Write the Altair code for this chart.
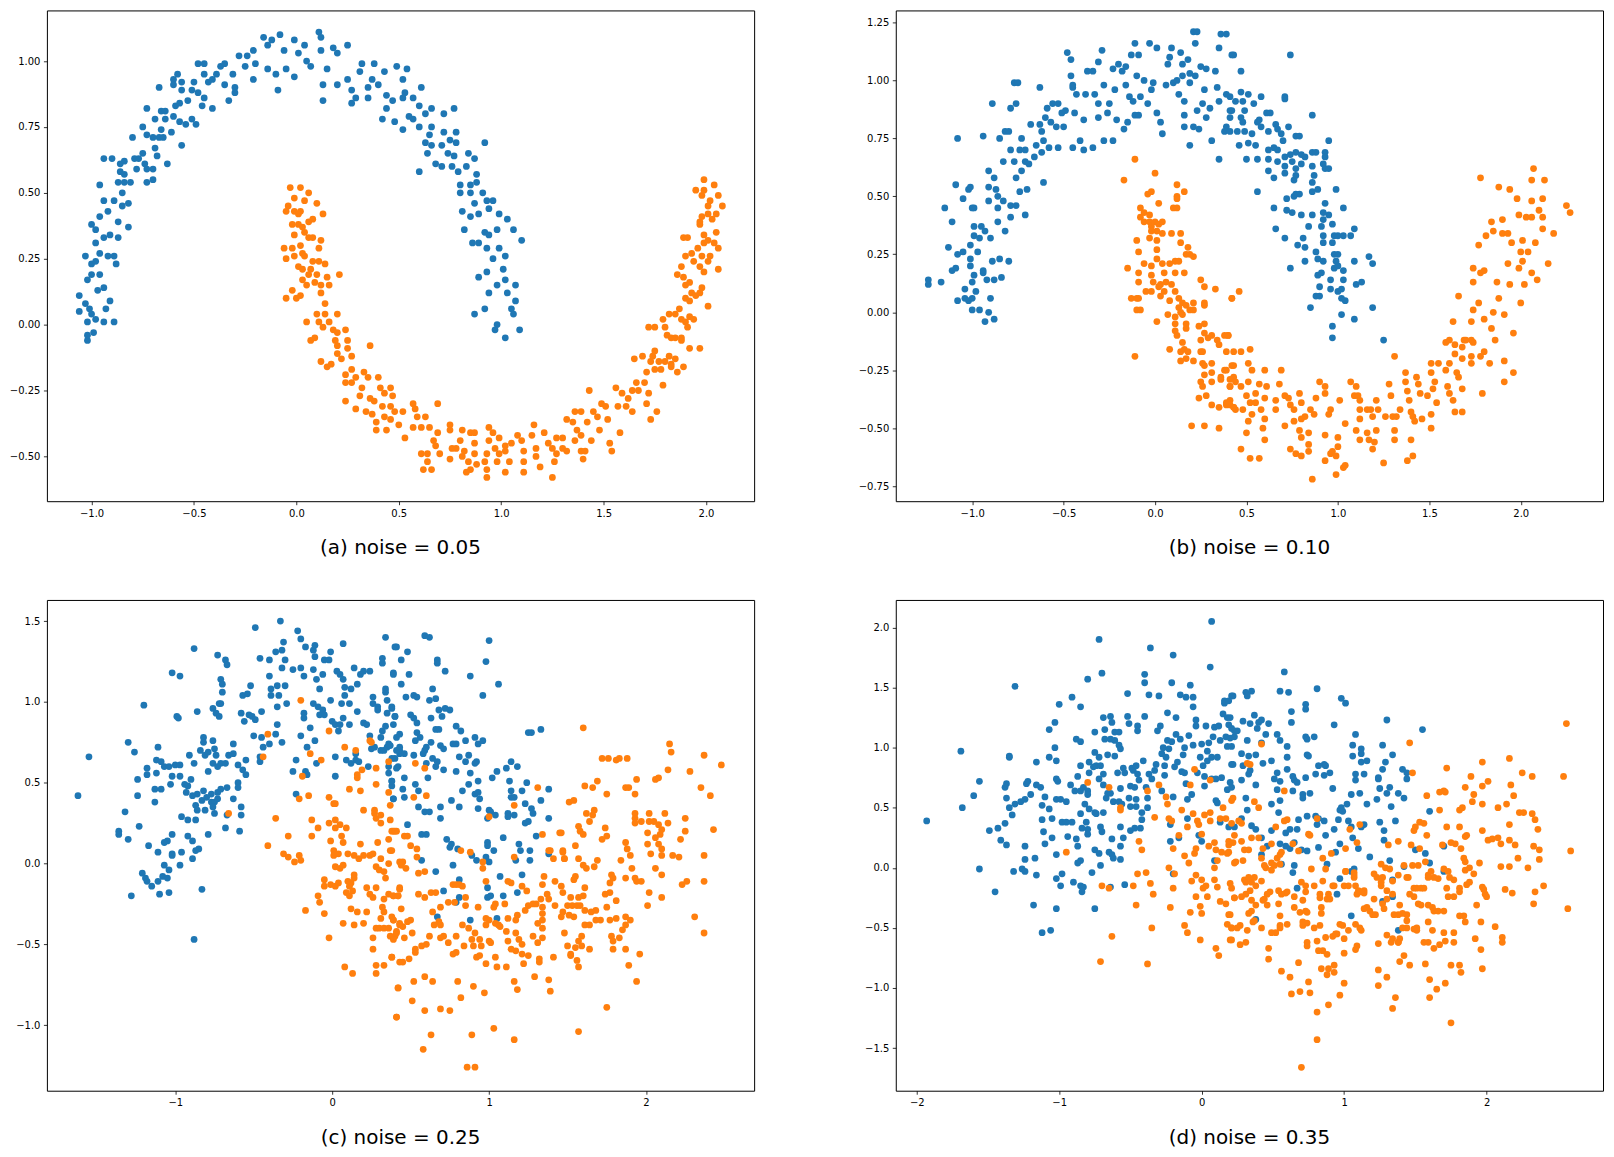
import altair as alt
import pandas as pd

# ---------------- panel (a): noise = 0.05 ----------------
A0 = [(-1.02,-0.06),(-0.99,-0.03),(-1.02,-0.04),(-1.06,0.05),(-1.06,0.11),(-1.02,0.01),(-0.98,0.02),(-0.94,0.01),(-0.89,0.01),(-0.93,0.06),(-0.91,0.09),(-1.03,0.08),(-1.01,0.06),(-1.0,0.04),(-0.97,0.13),(-0.94,0.14),(-1.03,0.26),(-1.0,0.23),(-0.98,0.24),(-0.96,0.27),(-0.92,0.26),(-0.89,0.26),(-0.88,0.23),(-1.0,0.19),(-0.96,0.19),(-1.02,0.17),(-1.0,0.38),(-0.98,0.36),(-0.94,0.33),(-0.91,0.34),(-0.87,0.39),(-0.87,0.33),(-0.98,0.31),(-0.96,0.41),(-0.92,0.43),(-0.94,0.47),(-0.96,0.53),(-0.89,0.47),(-0.85,0.45),(-0.82,0.46),(-0.85,0.50),(-0.82,0.37),(-0.87,0.54),(-0.84,0.54),(-0.81,0.54),(-0.86,0.58),(-0.84,0.57),(-0.94,0.63),(-0.90,0.63),(-0.86,0.61),(-0.84,0.62),(-0.79,0.63),(-0.77,0.63),(-0.78,0.59),(-0.74,0.61),(-0.73,0.59),(-0.70,0.59),(-0.70,0.55),(-0.73,0.54),(-0.75,0.65),(-0.80,0.71),(-0.75,0.75),(-0.73,0.72),(-0.70,0.71),(-0.67,0.71),(-0.65,0.71),(-0.69,0.67),(-0.68,0.64),(-0.63,0.61),(-0.56,0.68),(-0.61,0.73),(-0.66,0.74),(-0.73,0.82),(-0.69,0.78),(-0.66,0.81),(-0.64,0.81),(-0.64,0.78),(-0.60,0.79),(-0.59,0.83),(-0.57,0.84),(-0.57,0.77),(-0.54,0.76),(-0.67,0.90),(-0.60,0.93),(-0.60,0.91),(-0.58,0.95),(-0.56,0.92),(-0.56,0.89),(-0.53,0.85),(-0.51,0.89),(-0.51,0.78),(-0.49,0.76),(-0.50,0.92),(-0.48,0.88),(-0.48,0.99),(-0.45,0.99),(-0.45,0.95),(-0.45,0.86),(-0.46,0.83),(-0.41,0.82),(-0.43,0.92),(-0.41,0.93),(-0.39,0.95),(-0.37,0.98),(-0.35,0.99),(-0.35,0.91),(-0.33,0.85),(-0.31,0.95),(-0.30,0.90),(-0.30,0.88),(-0.28,1.02),(-0.24,1.02),(-0.25,0.98),(-0.21,0.93),(-0.20,0.99),(-0.21,1.04),(-0.16,1.09),(-0.14,1.06),(-0.14,0.97),(-0.10,0.95),(-0.09,0.89),(-0.12,1.08),(-0.08,1.10),(-0.06,1.04),(-0.05,0.97),(-0.01,1.08),(-0.01,0.94),(0.01,1.03),(0.04,1.06),(0.05,1.0),(0.07,0.98),(0.11,1.11),(0.12,1.09),(0.12,1.04),(0.13,0.91),(0.13,0.85),(0.15,0.97),(0.18,1.05),(0.20,1.03),(0.20,0.91),(0.25,0.93),(0.25,1.06),(0.27,0.89),(0.29,0.86),(0.27,0.84),(0.32,0.99),(0.31,0.96),(0.35,0.86),(0.35,0.90),(0.37,0.93),(0.38,0.99),(0.40,0.91),(0.42,0.78),(0.43,0.96),(0.44,0.82),(0.44,0.87),
(0.49,0.98),(0.54,0.97),(0.52,0.93),(0.53,0.88),(0.47,0.85),(0.52,0.86),(0.57,0.86),(0.60,0.83),(0.61,0.90),(0.55,0.79),(0.57,0.78),(0.48,0.77),(0.52,0.74),(0.63,0.80),(0.66,0.82),(0.72,0.80),(0.77,0.82),(0.60,0.75),(0.66,0.75),(0.65,0.72),(0.72,0.73),(0.78,0.73),(0.63,0.69),(0.66,0.68),(0.71,0.68),(0.75,0.70),(0.78,0.69),(0.64,0.65),(0.68,0.61),(0.71,0.60),(0.60,0.58),(0.74,0.65),(0.77,0.64),(0.84,0.65),(0.87,0.63),(0.92,0.69),(0.76,0.60),(0.79,0.58),(0.83,0.60),(0.80,0.53),(0.85,0.53),(0.88,0.57),(0.88,0.54),(0.80,0.50),(0.85,0.50),(0.91,0.50),(0.87,0.46),(0.93,0.47),(0.96,0.47),(0.81,0.43),(0.85,0.41),(0.89,0.42),(0.94,0.44),(0.99,0.42),(1.03,0.40),(1.06,0.36),(1.10,0.32),(0.82,0.36),(0.86,0.31),(0.89,0.31),(0.92,0.35),(0.94,0.34),(0.98,0.36),(0.93,0.29),(0.99,0.29),(1.02,0.26),(0.96,0.25),(1.01,0.21),(0.89,0.18),(0.93,0.20),(0.98,0.15),(0.94,0.12),(1.02,0.17),(1.07,0.15),(1.03,0.12),(1.07,0.09),(1.05,0.06),(1.06,0.04),(0.87,0.04),(0.92,0.06),(0.98,0.00),(0.97,-0.02),(1.02,-0.05),(1.09,-0.02)]
A1 = [(-0.03,0.52),(0.02,0.52),(0.06,0.50),(-0.01,0.48),(0.04,0.47),(0.10,0.46),(-0.04,0.45),(-0.05,0.43),(-0.01,0.43),(0.02,0.43),(0.01,0.42),(0.13,0.42),(0.08,0.40),(0.06,0.39),(-0.02,0.38),(0.01,0.38),(0.03,0.37),(-0.01,0.34),(0.04,0.35),(0.06,0.33),(0.08,0.33),(0.12,0.32),(-0.06,0.29),(-0.02,0.29),(0.02,0.30),(0.03,0.27),(0.11,0.29),(-0.05,0.25),(-0.01,0.26),(0.04,0.26),(0.08,0.24),(0.11,0.24),(0.14,0.23),(0.01,0.22),(0.03,0.21),(0.07,0.21),(0.10,0.19),(0.06,0.19),(0.15,0.18),(0.21,0.19),(0.03,0.17),(0.09,0.16),(0.12,0.15),(0.16,0.15),(0.05,0.15),(-0.02,0.13),(0.12,0.12),(-0.05,0.10),(0.0,0.10),(0.02,0.11),(0.14,0.08),(0.05,0.01),(0.10,0.04),(0.14,0.04),(0.20,0.04),(0.11,0.01),(0.13,-0.01),(0.16,0.01),(0.07,-0.06),(0.09,-0.05),(0.18,-0.02),(0.20,-0.03),(0.24,-0.02),(0.19,-0.06),(0.20,-0.08),(0.25,-0.06),(0.25,-0.09),(0.20,-0.11),(0.22,-0.13),(0.27,-0.12),(0.36,-0.08),(0.12,-0.14),(0.15,-0.16),(0.17,-0.15),(0.24,-0.19),(0.27,-0.17),(0.29,-0.20),(0.33,-0.18),(0.35,-0.20),(0.24,-0.22),(0.27,-0.22),(0.32,-0.24),(0.31,-0.27),(0.36,-0.28),(0.40,-0.20),(0.41,-0.24),(0.43,-0.26),(0.38,-0.29),(0.42,-0.31),(0.24,-0.29),(0.29,-0.32),(0.34,-0.33),(0.37,-0.34),(0.43,-0.35),(0.39,-0.37),(0.39,-0.40),(0.44,-0.40),
(0.47,-0.27),(0.46,-0.24),(0.46,-0.31),(0.48,-0.33),(0.52,-0.33),(0.46,-0.36),(0.50,-0.38),(0.57,-0.30),(0.58,-0.32),(0.59,-0.35),(0.63,-0.35),(0.53,-0.43),(0.57,-0.39),(0.61,-0.39),(0.65,-0.39),(0.69,-0.30),(0.69,-0.41),(0.67,-0.44),(0.68,-0.46),(0.61,-0.49),(0.64,-0.49),(0.70,-0.49),(0.64,-0.52),(0.62,-0.55),(0.66,-0.55),(0.75,-0.38),(0.75,-0.40),(0.81,-0.40),(0.85,-0.41),(0.87,-0.41),(0.80,-0.44),(0.76,-0.47),(0.78,-0.47),(0.82,-0.48),(0.75,-0.51),(0.81,-0.50),(0.84,-0.52),(0.87,-0.49),(0.87,-0.45),(0.85,-0.55),(0.83,-0.56),(0.88,-0.53),(0.93,-0.49),(0.92,-0.52),(0.93,-0.55),(0.93,-0.58),(0.94,-0.39),(0.96,-0.41),(0.94,-0.44),(0.97,-0.47),(0.99,-0.43),(1.02,-0.46),(0.99,-0.49),(0.98,-0.52),(1.05,-0.45),(1.02,-0.48),(1.04,-0.52),(1.02,-0.56),(1.08,-0.42),(1.10,-0.44),(1.11,-0.48),(1.11,-0.52),(1.11,-0.56),(1.16,-0.38),(1.15,-0.42),(1.17,-0.47),(1.17,-0.50),(1.19,-0.54),(1.21,-0.41),(1.23,-0.45),(1.25,-0.47),(1.26,-0.52),(1.25,-0.58),(1.27,-0.43),(1.30,-0.47),(1.27,-0.49),(1.32,-0.48),(1.30,-0.43),(1.32,-0.36),(1.35,-0.37),(1.36,-0.33),(1.39,-0.33),(1.37,-0.40),(1.39,-0.42),(1.36,-0.44),(1.39,-0.48),(1.41,-0.48),(1.40,-0.51),(1.43,-0.25),(1.42,-0.37),(1.44,-0.44),(1.45,-0.33),(1.47,-0.35),(1.48,-0.40),(1.49,-0.30),(1.51,-0.31),(1.52,-0.36),(1.53,-0.45),(1.54,-0.48),(1.56,-0.24),(1.57,-0.31),(1.58,-0.41),(1.59,-0.26),(1.61,-0.31),(1.62,-0.28),(1.64,-0.25),(1.65,-0.13),(1.64,-0.33),(1.66,-0.22),(1.67,-0.25),(1.69,-0.12),(1.70,-0.22),(1.71,-0.30),(1.72,-0.26),(1.73,-0.36),(1.71,-0.18),(1.73,-0.14),(1.75,-0.17),(1.76,-0.33),(1.74,-0.12),(1.75,-0.10),(1.77,-0.14),(1.78,-0.17),(1.79,-0.23),(1.80,-0.14),(1.82,-0.12),(1.83,-0.16),(1.83,-0.15),(1.85,-0.13),(1.86,-0.18),(1.89,-0.16),(1.72,-0.01),(1.75,-0.01),(1.79,0.02),(1.80,-0.01),(1.81,-0.04),(1.83,-0.05),(1.85,-0.05),(1.88,-0.05),(1.88,-0.06),(1.92,-0.09),(1.97,-0.09),(1.82,0.04),(1.85,0.04),(1.87,0.06),(1.88,0.02),(1.90,0.01),(1.91,-0.01),(1.92,0.03),(1.94,0.02),(1.90,0.10),(1.92,0.09),(1.93,0.12),(1.95,0.11),(1.97,0.12),(1.98,0.14),(2.01,0.07),(1.86,0.19),(1.89,0.18),(1.90,0.15),(1.92,0.16),(1.88,0.22),(1.90,0.26),(1.93,0.27),(1.96,0.29),(1.94,0.24),(1.97,0.22),(1.99,0.20),(2.01,0.24),(2.02,0.26),(1.98,0.26),(1.99,0.31),(2.01,0.32),(2.04,0.31),(2.05,0.35),(2.06,0.29),(2.06,0.21),(1.99,0.34),(1.89,0.33),(1.91,0.33),(1.97,0.38),(1.97,0.39),(1.98,0.41),(2.01,0.42),(2.03,0.40),(2.05,0.42),(2.08,0.45),(2.01,0.45),(2.02,0.47),(2.06,0.49),(1.98,0.49),(1.99,0.51),(1.95,0.51),(1.99,0.55),(2.04,0.53)]

# ---------------- panel (b): noise = 0.10 ----------------
B0 = [(-1.24,0.14),(-1.24,0.12),(-1.17,0.13),(-1.15,0.45),(-1.11,0.39),(-1.13,0.28),(-1.09,0.55),(-1.08,0.75),(-1.05,0.49),(-1.02,0.53),(-1.01,0.54),(-1.0,0.45),(-1.05,0.26),(-1.08,0.25),(-1.11,0.18),(-1.09,0.19),(-1.08,0.05),(-1.04,0.06),(-1.04,0.10),(-1.02,0.05),(-1.0,0.06),(-1.0,0.01),(-1.0,0.13),(-0.99,0.16),(-1.01,0.20),(-1.01,0.23),(-1.01,0.29),(-0.99,0.33),(-0.99,0.37),(-0.99,0.45),(-0.97,0.26),(-0.98,0.09),(-0.96,0.01),(-0.94,0.17),(-0.94,0.18),(-0.93,-0.04),(-0.91,0.0),(-0.90,0.06),(-0.88,-0.03),(-0.92,0.14),(-0.88,0.14),(-0.84,0.15),(-0.91,0.61),(-0.89,0.90),(-0.94,0.76),(-0.95,0.37),(-0.96,0.32),(-0.93,0.35),(-0.91,0.48),(-0.91,0.54),(-0.90,0.32),(-0.89,0.22),(-0.88,0.58),(-0.87,0.53),(-0.86,0.50),(-0.86,0.45),(-0.86,0.39),(-0.85,0.75),(-0.85,0.23),(-0.82,0.35),(-0.83,0.48),(-0.83,0.65),(-0.82,0.78),(-0.80,0.22),(-0.79,0.88),(-0.79,0.46),(-0.79,0.41),(-0.79,0.70),(-0.80,0.78),(-0.77,0.99),(-0.75,0.99),(-0.76,0.90),(-0.76,0.58),(-0.76,0.46),(-0.77,0.65),(-0.74,0.70),(-0.73,0.75),(-0.73,0.61),(-0.74,0.52),(-0.71,0.70),(-0.71,0.65),(-0.71,0.42),(-0.70,0.53),(-0.69,0.64),(-0.68,0.81),(-0.66,0.67),(-0.65,0.72),(-0.63,0.97),(-0.63,0.81),(-0.62,0.78),(-0.62,0.69),(-0.61,0.56),(-0.61,0.74),(-0.60,0.84),(-0.59,0.88),(-0.58,0.71),(-0.57,0.82),(-0.56,0.90),(-0.54,0.80),(-0.53,0.71),(-0.53,0.90),(-0.51,0.86),(-0.50,0.80),(-0.49,0.87),(-0.48,1.12),(-0.46,1.02),(-0.46,1.09),(-0.45,0.97),(-0.45,0.71),(-0.45,0.98),(-0.44,0.86),(-0.43,0.94),(-0.41,0.74),(-0.39,0.70),(-0.39,0.83),(-0.38,0.94),(-0.37,1.04),(-0.34,1.04),(-0.34,0.71),(-0.33,0.94),(-0.31,0.90),(-0.31,0.84),(-0.31,1.08),(-0.29,1.13),(-0.28,0.74),(-0.28,0.98),(-0.26,0.86),(-0.25,0.90),(-0.23,1.05),(-0.23,0.74),(-0.22,0.96),(-0.21,0.83),(-0.20,1.07),(-0.18,1.04),(-0.17,0.79),(-0.16,1.06),(-0.16,0.98),(-0.15,0.82),(-0.14,0.93),(-0.13,1.11),(-0.11,1.16),(-0.12,0.91),(-0.11,0.85),(-0.10,1.02),(-0.09,0.85),(-0.09,1.11),(-0.08,0.93),(-0.06,1.0),(-0.03,1.16),(-0.04,0.90),(-0.02,0.96),(-0.01,0.99),(0.01,0.86),(0.01,1.14),(0.03,0.82),(0.04,0.77),(0.06,0.98),(0.07,1.07),(0.08,1.10),(0.09,1.14),(0.10,0.99),(0.12,1.0),(0.13,0.94),(0.14,1.12),(0.15,1.02),(0.15,1.07),(0.16,0.91),(0.16,0.85),(0.16,0.80),(0.18,1.09),(0.19,1.03),(0.19,0.72),(0.19,0.99),(0.21,0.80),(0.21,1.21),(0.22,1.16),(0.23,1.21),(0.22,1.02),(0.23,0.87),(0.24,0.79),(0.25,1.06),(0.26,0.90),(0.27,0.96),(0.28,1.05),(0.28,0.84),(0.30,0.88),(0.31,0.74),(0.33,1.04),(0.34,0.97),(0.35,1.14),(0.35,0.66),(0.36,1.20),(0.38,0.78),(0.39,0.80),(0.41,0.87),(0.41,0.84),(0.43,1.11),(0.35,0.91),(0.39,0.94),
(0.39,1.20),(0.42,1.11),(0.74,1.11),(0.47,1.04),(0.41,0.93),(0.44,0.91),(0.47,0.95),(0.48,0.91),(0.51,0.94),(0.58,0.93),(0.54,0.90),(0.42,0.87),(0.47,0.84),(0.49,0.87),(0.48,0.82),(0.57,0.83),(0.56,0.82),(0.61,0.86),(0.63,0.86),(0.71,0.93),(0.71,0.92),(0.86,0.85),(0.41,0.78),(0.45,0.78),(0.49,0.78),(0.53,0.77),(0.58,0.80),(0.62,0.78),(0.66,0.81),(0.67,0.79),(0.69,0.77),(0.73,0.80),(0.77,0.76),(0.79,0.76),(0.70,0.74),(0.95,0.74),(0.46,0.72),(0.51,0.73),(0.55,0.72),(0.62,0.70),(0.65,0.71),(0.67,0.70),(0.71,0.67),(0.74,0.68),(0.77,0.69),(0.80,0.68),(0.82,0.67),(0.86,0.69),(0.88,0.69),(0.93,0.69),(0.93,0.67),(0.92,0.64),(0.93,0.62),(0.95,0.62),(0.50,0.66),(0.56,0.66),(0.62,0.66),(0.67,0.65),(0.71,0.63),(0.75,0.65),(0.77,0.62),(0.80,0.64),(0.86,0.63),(0.62,0.61),(0.65,0.58),(0.71,0.60),(0.76,0.57),(0.77,0.59),(0.87,0.59),(0.86,0.56),(0.89,0.53),(0.86,0.52),(0.56,0.52),(0.77,0.51),(0.79,0.51),(0.76,0.50),(0.99,0.53),(0.72,0.49),(0.65,0.45),(0.72,0.44),(0.75,0.43),(0.80,0.42),(0.86,0.42),(0.93,0.47),(0.95,0.42),(0.92,0.43),(0.92,0.40),(1.03,0.45),(0.66,0.36),(0.71,0.32),(0.78,0.29),(0.82,0.28),(0.81,0.32),(0.84,0.37),(0.91,0.37),(0.92,0.33),(0.92,0.30),(0.88,0.26),(0.82,0.22),(0.89,0.23),(0.92,0.22),(0.97,0.38),(0.98,0.33),(1.0,0.33),(1.03,0.33),(1.07,0.33),(1.09,0.36),(0.97,0.30),(0.98,0.25),(1.0,0.25),(0.99,0.22),(0.74,0.19),(0.89,0.16),(0.91,0.17),(0.98,0.19),(1.0,0.20),(1.03,0.18),(1.09,0.22),(1.17,0.24),(1.19,0.21),(0.96,0.14),(1.03,0.14),(0.90,0.11),(0.96,0.10),(1.0,0.09),(1.02,0.10),(1.10,0.12),(1.13,0.13),(0.88,0.07),(0.90,0.07),(1.02,0.06),(1.04,0.05),(0.85,0.02),(1.02,-0.01),(1.19,0.02),(1.09,-0.03),(0.97,-0.06),(0.97,-0.11),(1.25,-0.12)]
B1 = [(-0.11,0.66),(-0.17,0.57),(0.0,0.60),(-0.04,0.51),(-0.02,0.52),(0.02,0.47),(0.12,0.55),(0.16,0.52),(0.12,0.50),(0.12,0.49),(0.10,0.45),(0.12,0.45),(-0.08,0.45),(-0.06,0.43),(-0.03,0.42),(-0.08,0.41),(-0.06,0.39),(-0.03,0.39),(0.0,0.39),(0.02,0.38),(0.04,0.39),(-0.02,0.37),(0.01,0.35),(0.04,0.34),(-0.02,0.35),(0.09,0.34),(0.14,0.34),(-0.10,0.31),(-0.03,0.32),(0.01,0.31),(0.14,0.30),(0.18,0.28),(0.17,0.25),(-0.09,0.26),(0.01,0.27),(0.21,0.24),(0.19,0.25),(-0.06,0.21),(-0.02,0.20),(0.01,0.23),(0.04,0.21),(0.08,0.21),(0.11,0.22),(0.13,0.22),(-0.15,0.19),(-0.09,0.17),(-0.02,0.16),(0.05,0.17),(0.11,0.17),(0.16,0.17),(-0.09,0.13),(-0.01,0.13),(0.03,0.12),(0.06,0.13),(0.09,0.12),(0.25,0.14),(0.27,0.11),(0.33,0.10),(-0.05,0.09),(-0.02,0.09),(0.02,0.11),(0.05,0.09),(0.11,0.09),(-0.13,0.06),(-0.10,0.06),(-0.09,0.06),(0.03,0.07),(0.08,0.05),(0.13,0.06),(-0.10,0.01),(-0.08,0.01),(0.13,0.02),(0.15,0.04),(0.17,0.03),(0.19,0.01),(0.21,0.04),(0.27,0.04),(0.27,0.03),(0.42,0.06),(0.07,-0.01),(0.11,-0.02),(0.14,0.0),(0.15,-0.01),(0.21,0.01),(0.01,-0.04),(0.11,-0.05),(0.17,-0.05),(0.17,-0.07),(0.24,-0.06),(0.27,-0.05),(0.11,-0.08),(0.12,-0.10),(0.15,-0.13),(0.25,-0.12),(0.27,-0.09),(0.29,-0.11),(0.31,-0.10),(0.34,-0.12),(0.35,-0.14),(0.38,-0.10),(0.40,-0.10),(0.08,-0.16),(0.14,-0.17),(0.16,-0.16),(0.18,-0.17),(0.25,-0.17),(0.26,-0.17),(0.43,-0.17),(-0.11,-0.19),(0.14,-0.21),(0.17,-0.20),(0.21,-0.21),(0.26,-0.22),(0.27,-0.23),(0.31,-0.22),(0.27,-0.27),(0.31,-0.26),(0.36,-0.28),(0.38,-0.25),(0.43,-0.23),(0.25,-0.30),(0.31,-0.30),(0.36,-0.29),(0.43,-0.28),(0.26,-0.32),(0.41,-0.32),(0.28,-0.36),(0.24,-0.37),(0.31,-0.40),(0.35,-0.41),(0.39,-0.40),(0.41,-0.38),(0.43,-0.41),(0.44,-0.42),(0.20,-0.49),(0.27,-0.49),(0.35,-0.50),
(0.42,0.06),(0.46,0.09),(0.40,-0.10),(0.39,-0.17),(0.42,-0.23),(0.39,-0.25),(0.47,-0.17),(0.52,-0.16),(0.51,-0.22),(0.53,-0.25),(0.41,-0.29),(0.44,-0.30),(0.47,-0.32),(0.51,-0.30),(0.41,-0.32),(0.39,-0.39),(0.41,-0.40),(0.43,-0.41),(0.48,-0.42),(0.50,-0.36),(0.52,-0.39),(0.55,-0.35),(0.57,-0.31),(0.60,-0.25),(0.61,-0.32),(0.55,-0.39),(0.60,-0.37),(0.53,-0.44),(0.51,-0.47),(0.50,-0.52),(0.47,-0.59),(0.52,-0.63),(0.57,-0.63),(0.58,-0.42),(0.60,-0.46),(0.59,-0.50),(0.60,-0.55),(0.66,-0.38),(0.66,-0.42),(0.68,-0.31),(0.69,-0.25),(0.71,-0.49),(0.71,-0.36),(0.73,-0.37),(0.74,-0.40),(0.76,-0.42),(0.79,-0.35),(0.80,-0.39),(0.82,-0.45),(0.80,-0.46),(0.79,-0.51),(0.80,-0.54),(0.76,-0.47),(0.74,-0.59),(0.77,-0.61),(0.80,-0.62),(0.84,-0.57),(0.84,-0.52),(0.85,-0.42),(0.87,-0.44),(0.88,-0.37),(0.84,-0.60),(0.86,-0.72),(0.90,-0.30),(0.93,-0.32),(0.93,-0.35),(0.96,-0.42),(0.95,-0.44),(0.93,-0.53),(0.93,-0.64),(0.96,-0.61),(0.97,-0.60),(1.0,-0.54),(1.0,-0.58),(1.01,-0.38),(0.99,-0.62),(0.99,-0.70),(1.03,-0.67),(1.04,-0.66),(1.04,-0.48),(1.07,-0.30),(1.10,-0.32),(1.09,-0.36),(1.11,-0.36),(1.12,-0.38),(1.12,-0.42),(1.12,-0.46),(1.10,-0.51),(1.12,-0.55),(1.16,-0.52),(1.17,-0.55),(1.19,-0.59),(1.16,-0.42),(1.18,-0.42),(1.19,-0.45),(1.21,-0.38),(1.22,-0.42),(1.21,-0.51),(1.20,-0.56),(1.25,-0.65),(1.26,-0.45),(1.28,-0.31),(1.29,-0.36),(1.30,-0.45),(1.31,-0.51),(1.31,-0.55),(1.31,-0.19),(1.32,-0.45),(1.34,-0.42),(1.37,-0.26),(1.37,-0.30),(1.38,-0.34),(1.39,-0.38),(1.40,-0.43),(1.41,-0.45),(1.42,-0.47),(1.40,-0.55),(1.38,-0.64),(1.41,-0.62),(1.43,-0.28),(1.44,-0.31),(1.46,-0.46),(1.45,-0.35),(1.49,-0.36),(1.51,-0.26),(1.51,-0.44),(1.52,-0.33),(1.53,-0.30),(1.51,-0.50),(1.51,-0.22),(1.54,-0.39),(1.55,-0.22),(1.59,-0.25),(1.61,-0.35),(1.61,-0.22),(1.59,-0.13),(1.60,-0.32),(1.61,-0.12),(1.63,-0.38),(1.63,-0.04),(1.64,-0.14),(1.64,-0.18),(1.65,-0.26),(1.66,0.07),(1.66,-0.28),(1.64,-0.43),(1.68,-0.15),(1.68,-0.20),(1.68,-0.43),(1.69,-0.12),(1.68,-0.33),(1.70,-0.12),(1.73,-0.12),(1.73,-0.22),(1.73,-0.19),(1.73,-0.04),(1.74,0.01),(1.74,0.13),(1.74,0.19),(1.74,-0.13),(1.77,0.04),(1.77,0.29),(1.78,0.58),(1.78,0.17),(1.79,-0.35),(1.80,0.18),(1.80,-0.17),(1.78,-0.19),(1.81,0.33),(1.80,-0.03),(1.83,-0.22),(1.84,-0.07),(1.84,0.39),(1.85,0.35),(1.85,0.0),(1.86,-0.12),(1.87,0.13),(1.88,0.54),(1.88,0.06),(1.90,0.40),(1.90,0.34),(1.91,-0.21),(1.91,-0.30),(1.91,-0.01),(1.93,0.21),(1.93,0.34),(1.94,0.53),(1.94,0.12),(1.95,0.30),(1.96,-0.09),(1.96,-0.26),(1.98,0.49),(1.99,0.42),(1.99,0.19),(2.0,0.04),(2.0,0.26),(2.01,0.31),(2.01,0.22),(2.02,0.12),(2.03,0.41),(2.04,0.26),(2.06,0.57),(2.06,0.48),(2.06,0.41),(2.06,0.17),(2.07,0.62),(2.08,0.30),(2.09,0.14),(2.10,0.44),(2.12,0.49),(2.12,0.36),(2.13,0.57),(2.12,0.41),(2.15,0.21),(2.18,0.34),(2.25,0.46),(2.27,0.43)]

# ---------------- panel (c): noise = 0.25 ----------------
C0 = [(-1.62,0.42),(-1.55,0.66),(-1.30,0.75),(-1.26,0.69),(-1.20,0.98),(-1.02,1.18),(-0.97,1.16),(-0.88,1.33),(-0.86,0.94),(-0.99,0.91),(-0.98,0.90),(-1.11,0.72),(-1.12,0.64),(-1.09,0.63),(-1.07,0.60),(-1.04,0.60),(-1.0,0.61),(-0.97,0.61),(-1.18,0.59),(-1.18,0.55),(-1.12,0.56),(-1.24,0.52),(-1.24,0.42),(-1.13,0.46),(-1.09,0.46),(-1.13,0.38),(-1.03,0.49),(-1.02,0.54),(-0.97,0.54),(-0.94,0.49),(-0.92,0.48),(-0.90,0.52),(-0.91,0.67),(-0.88,0.62),(-0.84,0.70),(-0.82,0.78),(-0.81,0.67),(-0.79,0.69),(-0.76,0.76),(-0.75,0.71),(-0.74,0.67),(-0.71,0.62),(-0.76,0.62),(-0.79,0.57),(-0.73,0.60),(-0.68,0.62),(-0.66,0.67),(-0.63,0.74),(-0.63,0.68),(-0.60,0.61),(-0.57,0.58),(-0.55,0.64),(-0.55,0.55),(-0.60,0.50),(-0.60,0.47),(-0.67,0.47),(-0.71,0.46),(-0.73,0.44),(-0.77,0.43),(-0.82,0.45),(-0.86,0.43),(-0.89,0.42),(-0.93,0.44),(-0.83,0.39),(-0.80,0.41),(-0.77,0.38),(-0.75,0.38),(-0.73,0.40),(-0.87,0.36),(-0.86,0.33),(-0.81,0.33),(-0.76,0.35),(-0.75,0.31),(-0.63,0.40),(-0.58,0.35),(-0.58,0.30),(-0.67,0.30),(-0.68,0.22),(-0.59,0.20),(-0.79,0.18),(-0.96,0.29),(-0.92,0.27),(-0.87,0.27),(-0.92,0.17),(-0.89,0.14),(-0.85,0.09),(-0.87,0.08),(-0.96,0.07),(-0.89,0.03),(-1.02,0.18),(-1.05,0.14),(-1.07,0.13),(-1.02,0.06),(-1.02,0.05),(-0.97,-0.01),(-1.11,0.07),(-1.17,0.11),(-1.23,0.23),(-1.32,0.32),(-1.36,0.20),(-1.36,0.18),(-1.30,0.15),(-1.21,-0.06),(-1.19,-0.09),(-1.18,-0.11),(-1.15,-0.14),(-1.28,-0.20),(-1.11,-0.11),(-1.08,-0.08),(-1.05,-0.09),(-1.07,-0.01),(-1.04,-0.04),(-1.10,-0.19),(-1.04,-0.18),(-0.83,-0.16),(-0.88,-0.47),(-0.82,0.75),(-0.76,0.96),(-0.72,0.99),(-0.71,0.99),(-0.74,0.93),(-0.72,0.91),(-0.71,1.14),(-0.70,1.11),(-0.70,1.06),(-0.73,1.29),(-0.68,1.26),(-0.67,1.23),(-0.58,0.93),(-0.56,0.88),(-0.57,1.04),(-0.52,1.10),(-0.54,1.05),(-0.53,0.92),(-0.51,0.91),(-0.49,1.46),(-0.46,1.27),(-0.40,1.26),(-0.40,1.16),(-0.39,1.08),(-0.39,1.04),(-0.36,1.31),(-0.35,0.97),(-0.35,1.10),(-0.34,1.04),(-0.33,1.50),(-0.32,1.21),(-0.32,1.32),(-0.31,1.37),(-0.30,1.26),(-0.30,1.10),(-0.29,0.99),(-0.35,0.86),(-0.36,0.80),(-0.40,0.74),(-0.32,0.75),(-0.44,0.72),(-0.46,0.66),(-0.46,0.63),(-0.50,0.79),(-0.45,0.78),(-0.45,0.94),(-0.49,0.89),(-0.25,1.20),(-0.22,1.44),(-0.20,1.21),(-0.20,1.39),(-0.18,1.16),(-0.17,1.34),(-0.12,1.32),(-0.11,1.28),(-0.11,1.35),(-0.12,1.20),(-0.10,1.14),(-0.08,1.08),(-0.06,1.17),(-0.05,1.26),(-0.02,1.26),(-0.01,1.31),(-0.01,1.01),(-0.12,0.99),(-0.09,0.97),(-0.08,0.92),(-0.06,0.95),(-0.05,0.92),(-0.18,0.93),(-0.18,0.90),(-0.14,0.84),(-0.20,0.79),(-0.23,0.64),(-0.25,0.57),(-0.23,0.43),(-0.17,0.57),(-0.16,0.55),(-0.16,0.72),(-0.11,0.76),(-0.10,0.62),(0.0,0.88),(0.02,0.86),(0.02,0.66),(0.02,0.54),(0.07,1.36),(0.03,1.19),(0.05,1.17),(0.07,1.14),(0.08,1.09),(0.08,1.04),(0.06,0.99),(0.11,0.99),(0.12,1.08),(0.14,1.21),(0.16,1.11),(0.16,0.94),(0.18,1.17),(0.20,1.19),(0.24,1.19),(0.26,1.03),(0.26,0.99),(0.29,0.97),(0.29,0.95),(0.05,0.86),(0.07,0.90),(0.11,0.86),(0.04,0.82),(0.20,0.87),(0.22,0.86),(0.24,0.79),(0.25,0.71),(0.27,0.72),(0.31,0.78),(0.32,0.82),(0.34,0.85),(0.34,1.40),(0.32,1.27),(0.32,1.24),(0.34,1.08),(0.34,1.06),(0.35,1.01),(0.39,1.18),(0.41,1.34),(0.38,0.97),(0.35,0.93),(0.40,0.91),(0.09,0.64),(0.12,0.62),(0.15,0.68),(0.15,0.64),(0.17,0.63),(0.23,0.60),(0.31,0.70),(0.33,0.70),(0.35,0.72),(0.36,0.74),(0.36,0.56),(0.38,0.51),(0.38,0.48),(0.39,0.40),(0.40,0.65),(0.41,0.78),(0.42,0.60),(0.43,0.68),(0.43,0.70),(0.36,0.60),
(0.59,1.41),(0.62,1.40),(1.0,1.38),(0.40,1.34),(0.48,1.31),(0.44,1.26),(0.67,1.26),(0.67,1.24),(0.98,1.25),(0.72,1.19),(0.39,1.17),(0.49,1.17),(0.88,1.16),(1.06,1.11),(0.44,1.11),(0.64,1.08),(0.47,1.03),(0.52,1.04),(0.54,1.03),(0.96,1.04),(0.62,1.01),(0.66,1.02),(0.38,0.96),(0.68,0.95),(0.72,0.96),(0.75,0.95),(0.40,0.91),(0.50,0.92),(0.52,0.90),(0.63,0.90),(0.70,0.91),(0.39,0.86),(0.54,0.87),(0.66,0.83),(0.68,0.83),(0.79,0.85),(0.82,0.82),(1.25,0.81),(1.27,0.81),(1.33,0.83),(0.43,0.80),(0.54,0.81),(0.56,0.78),(0.37,0.73),(0.41,0.70),(0.43,0.72),(0.53,0.76),(0.59,0.70),(0.60,0.72),(0.63,0.75),(0.69,0.73),(0.71,0.71),(0.77,0.74),(0.79,0.74),(0.85,0.76),(0.91,0.78),(0.93,0.74),(0.96,0.76),(0.38,0.65),(0.46,0.68),(0.41,0.59),(0.52,0.67),(0.58,0.68),(0.60,0.62),(0.64,0.65),(0.66,0.60),(0.67,0.63),(0.71,0.58),(0.61,0.53),(0.79,0.57),(0.81,0.66),(0.85,0.63),(0.87,0.67),(0.88,0.56),(0.92,0.63),(0.91,0.62),(0.93,0.51),(1.02,0.53),(1.05,0.57),(1.11,0.59),(1.14,0.63),(1.18,0.60),(0.38,0.51),(0.46,0.53),(0.53,0.49),(0.55,0.45),(0.45,0.46),(0.39,0.40),(0.46,0.41),(0.83,0.45),(0.87,0.49),(0.91,0.43),(0.93,0.44),(0.94,0.40),(1.13,0.51),(1.14,0.45),(1.14,0.41),(1.16,0.41),(1.21,0.45),(1.24,0.50),(1.38,0.46),(1.23,0.37),(1.33,0.39),(1.27,0.34),(0.55,0.35),(0.59,0.32),(0.62,0.32),(0.69,0.35),(0.76,0.39),(0.81,0.35),(0.93,0.34),(1.0,0.33),(1.01,0.32),(1.04,0.30),(0.99,0.28),(0.69,0.28),(1.12,0.31),(1.12,0.29),(1.16,0.30),(1.23,0.25),(1.25,0.26),(1.28,0.31),(1.38,0.28),(0.48,0.24),(0.57,0.18),(0.60,0.18),(1.30,0.17),(0.73,0.15),(0.75,0.10),(0.76,0.12),(0.80,0.09),(0.99,0.13),(0.99,0.11),(1.03,0.08),(1.09,0.16),(1.19,0.12),(1.20,0.08),(1.26,0.08),(1.38,0.06),(0.89,0.05),(0.92,0.02),(0.98,0.04),(1.0,0.01),(1.17,0.02),(1.26,0.02),(0.57,0.02),(0.66,-0.05),(0.77,-0.01),(1.07,-0.08),(1.21,-0.07),(0.81,-0.10),(0.71,-0.17),(1.18,-0.18),(1.09,-0.20),(0.99,-0.15),(0.99,-0.21),(1.01,-0.20),(0.81,-0.21),(0.79,-0.24),(0.67,-0.33),(0.88,-0.35),(1.05,-0.34)]
C1 = [(-0.20,1.01),(-0.41,0.80),(-0.44,0.66),(-0.66,0.31),(-0.36,0.28),(-0.41,0.11),(-0.28,0.17),(-0.31,0.06),(-0.28,0.04),(-0.24,0.01),(-0.21,0.05),(-0.20,0.02),(-0.21,0.40),(-0.15,0.42),(-0.14,0.68),(-0.19,0.54),(-0.07,0.64),(-0.02,0.82),(0.01,0.37),(0.02,0.37),(-0.02,0.41),(-0.02,0.25),(-0.13,0.27),(-0.09,0.22),(-0.13,0.17),(-0.01,0.14),(0.02,0.22),(0.02,0.27),(0.05,0.24),(0.06,0.17),(0.07,0.13),(0.09,0.22),(0.08,0.72),(0.15,0.70),(0.16,0.53),(0.16,0.55),(0.11,0.46),(0.18,0.45),(0.19,0.58),(0.20,0.33),(0.24,0.76),(0.25,0.75),(0.28,0.59),(0.28,0.49),(0.27,0.31),(0.27,0.33),(0.28,0.28),(0.31,0.25),(0.31,0.30),(0.36,0.63),(0.36,0.44),(0.37,0.36),(0.37,0.27),(0.39,0.20),(0.41,0.20),(0.36,0.15),(0.29,0.13),(0.37,0.08),(0.18,0.12),(0.14,0.05),(0.01,0.08),(0.01,0.05),(0.10,0.06),(0.04,0.06),(0.17,0.03),(0.20,0.05),(0.24,0.05),(0.26,0.06),(0.31,0.03),(0.36,0.0),(0.43,0.01),(0.02,-0.02),(0.05,-0.03),(0.07,-0.01),(-0.05,-0.10),(-0.05,-0.14),(-0.01,-0.13),(0.02,-0.14),(0.04,-0.12),(0.10,-0.11),(0.14,-0.07),(0.14,-0.09),(0.12,-0.12),(0.11,-0.14),(0.13,-0.17),(0.09,-0.18),(0.11,-0.20),(0.28,-0.02),(0.30,-0.04),(0.33,-0.05),(0.34,-0.09),(0.22,-0.15),(0.24,-0.19),(0.26,-0.21),(0.28,-0.15),(0.33,-0.22),(0.36,-0.19),(0.39,-0.20),(0.42,-0.20),(0.43,-0.15),(-0.09,-0.20),(-0.08,-0.24),(-0.17,-0.29),(-0.05,-0.31),(-0.02,-0.46),(0.07,-0.37),(0.12,-0.28),(0.14,-0.38),(0.16,-0.30),(0.20,-0.37),(0.22,-0.30),(0.32,-0.27),(0.31,-0.34),(0.33,-0.30),(0.28,-0.40),(0.30,-0.40),(0.33,-0.40),(0.36,-0.40),(0.38,-0.33),(0.39,-0.35),(0.37,-0.45),(0.40,-0.45),(0.43,-0.38),(0.41,-0.42),(0.26,-0.46),(0.26,-0.53),(0.28,-0.63),(0.28,-0.68),(0.33,-0.63),(0.38,-0.58),(0.43,-0.61),(0.08,-0.64),(0.13,-0.68),(0.42,-0.77),(0.41,-0.95),
(1.60,0.84),(2.15,0.74),(2.16,0.69),(2.37,0.67),(2.48,0.61),(1.72,0.65),(1.76,0.65),(1.81,0.64),(1.83,0.65),(1.88,0.65),(2.14,0.58),(2.28,0.57),(0.53,0.62),(0.59,0.59),(2.06,0.52),(2.08,0.53),(1.94,0.52),(1.87,0.47),(1.89,0.47),(1.69,0.51),(1.66,0.47),(1.61,0.48),(1.31,0.47),(2.35,0.47),(2.41,0.42),(1.75,0.43),(1.93,0.43),(0.52,0.41),(0.60,0.42),(1.16,0.36),(1.51,0.38),(1.54,0.39),(1.62,0.31),(1.67,0.33),(1.66,0.30),(1.64,0.26),(1.74,0.22),(1.75,0.17),(1.72,0.15),(1.93,0.31),(1.93,0.28),(1.93,0.25),(1.97,0.26),(2.02,0.31),(2.02,0.26),(2.05,0.26),(2.08,0.24),(2.12,0.31),(2.14,0.25),(2.10,0.21),(2.09,0.18),(2.25,0.28),(2.25,0.20),(2.43,0.21),(2.01,0.19),(2.06,0.16),(2.08,0.12),(2.01,0.12),(2.03,0.06),(2.10,0.09),(2.10,0.05),(2.17,0.05),(2.21,0.04),(2.23,-0.13),(2.22,0.15),(2.37,0.05),(1.57,0.23),(1.58,0.20),(1.60,0.18),(1.45,0.19),(1.38,0.08),(1.47,0.08),(1.48,0.03),(1.55,0.11),(1.57,0.03),(1.60,-0.01),(1.62,-0.03),(1.67,-0.02),(1.69,0.02),(1.84,0.02),(1.87,0.13),(1.88,0.09),(1.90,0.05),(1.91,-0.03),(1.97,-0.11),(1.94,-0.11),(1.93,-0.09),(2.06,-0.03),(2.10,-0.07),(2.26,-0.11),(2.37,-0.11),(1.78,-0.07),(1.79,-0.09),(1.77,-0.12),(1.77,-0.18),(1.74,-0.19),(1.81,-0.23),(1.87,-0.09),(2.02,-0.18),(2.01,-0.26),(2.10,-0.21),(2.31,-0.33),(2.37,-0.43),(1.55,-0.08),(1.54,-0.10),(1.61,-0.15),(1.60,-0.20),(1.57,-0.21),(1.52,-0.21),(1.50,-0.26),(1.53,-0.26),(1.56,-0.26),(1.58,-0.26),(1.61,-0.29),(1.65,-0.30),(1.68,-0.29),(1.71,-0.35),(1.75,-0.27),(1.77,-0.35),(1.81,-0.34),(1.87,-0.33),(1.90,-0.35),(1.87,-0.38),(1.68,-0.35),(1.61,-0.38),(1.64,-0.38),(1.59,-0.45),(1.57,-0.48),(1.55,-0.52),(1.59,-0.51),(1.64,-0.53),(1.52,-0.57),(1.56,-0.60),(1.57,-0.64),(1.78,-0.45),(1.79,-0.48),(1.79,-0.53),(1.83,-0.46),(1.85,-0.41),(1.87,-0.53),(1.89,-0.63),(1.96,-0.56),(1.94,-0.73),(1.75,-0.89),(1.57,-1.04),(1.42,-0.11),(1.46,-0.14),(1.47,-0.18),(1.42,-0.26),(1.47,-0.30),(1.46,-0.33),(1.51,-0.32),(1.54,-0.33),(1.48,-0.43),(1.50,-0.51),(1.52,-0.56),(1.41,-0.58),(1.35,-0.08),(1.34,-0.13),(1.37,-0.19),(1.38,-0.22),(1.34,-0.27),(1.34,-0.31),(1.34,-0.35),(1.31,-0.37),(1.34,-0.40),(1.34,-0.46),(1.31,-0.49),(1.28,-0.45),(1.25,-0.26),(1.28,-0.25),(1.23,-0.29),(1.18,-0.32),(1.17,-0.35),(1.17,-0.43),(1.19,-0.47),(1.21,-0.50),(1.17,-0.54),(1.21,-0.56),(1.25,-0.57),(1.22,-0.62),(1.32,-0.59),(1.32,-0.61),(1.14,-0.53),(1.12,-0.48),(1.11,-0.42),(1.06,-0.38),(1.07,-0.39),(1.04,-0.37),(1.0,-0.35),(1.03,-0.27),(1.10,-0.25),(1.12,-0.34),(1.0,-0.48),(1.01,-0.49),(0.95,-0.51),(0.94,-0.47),(0.91,-0.43),(0.89,-0.47),(0.90,-0.51),(0.92,-0.58),(0.94,-0.57),(0.98,-0.62),(1.05,-0.64),(1.11,-0.64),(1.04,-0.58),(0.87,-0.40),(0.83,-0.38),(0.79,-0.45),(0.84,-0.51),(0.79,-0.55),(0.77,-0.56),(0.74,-0.49),(0.71,-0.45),(0.69,-0.46),(0.69,-0.38),(0.68,-0.36),(0.65,-0.38),(0.62,-0.45),(0.60,-0.50),(0.57,-0.51),(0.53,-0.53),(0.53,-0.55),(0.49,-0.59),(0.45,-0.61),(0.38,-0.58),(0.39,-0.47),(0.41,-0.43),(0.46,-0.46),(0.48,-0.36),(0.50,-0.35),(0.51,-0.43),(0.45,-0.39),(0.43,-0.37),(0.39,-0.35),(0.44,-0.28),(0.43,-0.16),(0.39,-0.20),(0.42,-0.20),(0.55,-0.19),(0.59,-0.21),(0.63,-0.18),(0.66,-0.18),(0.64,-0.30),(0.69,-0.27),(0.74,-0.24),(0.78,-0.24),(0.77,-0.13),(0.79,-0.13),(0.81,-0.13),(0.83,-0.14),(0.85,-0.21),(0.85,-0.26),(0.93,-0.27),(0.98,-0.34),(0.98,-0.38),(1.04,-0.25),(0.98,-0.11),(0.96,-0.03),(0.96,0.01),(0.82,0.08),(0.88,0.07),(1.0,0.29),(1.16,0.04),(1.12,-0.11),(1.14,-0.12),(1.21,-0.14),(1.24,-0.17),(1.30,-0.25),(1.33,-0.22),(1.16,-0.73),(1.18,-0.78),(1.29,-0.70),(1.38,-0.72),(1.39,-0.79),(1.39,0.08),(1.41,0.03),(1.48,0.03),(1.47,0.07),(1.46,0.19),(1.34,0.18),(1.16,-1.09),(1.03,-1.02),(0.89,-1.06),(0.86,-1.26),(0.91,-1.26),(0.63,-1.06),(0.58,-1.15),(0.59,-0.91),(0.69,-0.90),(0.75,-0.91),(0.41,-0.95),(0.51,-0.85),(0.42,-0.77),(0.52,-0.73),(0.59,-0.70),(0.64,-0.73),(0.80,-0.73),(0.82,-0.83),(0.90,-0.76),(0.97,-0.80),(0.38,0.20),(0.40,0.20),(0.46,0.17),(0.48,0.17),(0.50,0.11),(0.54,0.09),(0.54,0.04),(0.45,0.01),(0.47,-0.03),(0.44,-0.01),(0.38,0.08),(0.55,-0.06),(0.59,-0.05)]

# ---------------- panel (d): noise = 0.35 ----------------
D0 = [(-1.93,0.39),(-1.69,0.97),(-1.68,0.50),(-1.60,0.60),(-1.56,0.72),(-1.56,-0.01),(-1.49,0.31),(-1.43,0.33),(-1.45,-0.20),(-1.41,0.23),(-1.38,0.37),(-1.38,0.67),(-1.37,0.70),(-1.37,0.58),(-1.35,0.92),(-1.35,0.93),(-1.37,0.19),(-1.35,0.50),(-1.33,0.44),(-1.31,1.51),(-1.31,0.53),(-1.27,0.55),(-1.32,-0.03),(-1.26,-0.01),(-1.24,0.07),(-1.24,0.18),(-1.24,-0.03),(-1.24,0.57),(-1.23,0.70),(-1.22,0.72),(-1.20,0.61),(-1.18,-0.31),(-1.17,0.08),(-1.16,0.88),(-1.16,-0.06),(-1.16,0.69),(-1.13,0.67),(-1.12,-0.54),(-1.12,0.40),(-1.12,0.52),(-1.11,0.30),(-1.10,0.20),(-1.10,0.59),(-1.07,0.92),(-1.07,0.49),(-1.07,1.15),(-1.06,-0.52),(-1.05,0.25),(-1.05,0.41),(-1.03,1.21),(-1.03,1.00),(-1.02,0.74),(-1.02,0.57),(-1.02,0.11),(-1.02,-0.09),(-1.02,0.89),(-1.02,-0.34),(-1.01,0.72),(-1.00,1.36),(-0.99,0.57),(-0.99,-0.15),(-0.98,0.38),(-0.98,-0.05),(-0.95,0.38),(-0.95,0.55),(-0.94,0.26),(-0.92,0.69),(-0.91,1.42),(-0.91,0.38),(-0.90,-0.12),(-0.89,0.64),(-0.88,1.07),(-0.88,0.24),(-0.87,0.18),(-0.87,0.04),(-0.87,0.76),(-0.85,0.85),(-0.85,0.45),(-0.85,0.64),(-0.85,-0.15),(-0.85,1.34),(-0.85,1.05),(-0.85,0.06),(-0.84,0.33),(-0.84,-0.20),(-0.83,-0.16),(-0.83,0.67),(-0.82,0.53),(-0.81,0.38),(-0.80,1.57),(-0.80,0.64),(-0.80,0.61),(-0.80,0.32),(-0.80,0.28),(-0.79,0.88),(-0.79,0.79),(-0.79,0.49),(-0.77,-0.04),(-0.76,0.84),(-0.75,-0.34),(-0.75,1.13),(-0.75,0.96),(-0.75,0.46),(-0.75,0.15),(-0.74,0.85),(-0.74,0.45),(-0.72,1.90),(-0.72,0.92),(-0.72,0.74),(-0.72,0.12),(-0.71,0.02),(-0.71,0.85),(-0.71,0.34),(-0.70,1.62),(-0.70,0.30),(-0.69,0.69),(-0.69,0.78),(-0.69,0.46),(-0.69,1.25),(-0.68,1.15),(-0.68,1.07),(-0.67,0.58),(-0.66,0.62),(-0.66,0.94),(-0.65,0.13),(-0.64,-0.16),(-0.64,1.26),(-0.64,1.07),(-0.64,0.62),(-0.63,0.11),(-0.63,0.24),(-0.63,1.21),(-0.62,0.55),(-0.62,0.08),(-0.61,1.13),(-0.61,0.93),(-0.61,1.06),(-0.59,0.79),(-0.58,1.13),(-0.58,0.55),(-0.58,1.02),(-0.57,0.07),(-0.57,0.66),(-0.57,0.34),(-0.57,0.99),(-0.57,0.18),(-0.56,0.53),(-0.55,0.25),(-0.54,-0.14),(-0.55,0.83),(-0.54,0.79),(-0.52,1.45),(-0.52,1.26),(-0.51,0.58),(-0.51,1.20),(-0.50,0.68),(-0.50,0.51),(-0.50,0.31),(-0.49,0.83),(-0.48,0.81),(-0.47,0.33),(-0.47,0.67),(-0.46,0.57),(-0.46,0.85),(-0.46,0.51),(-0.45,0.78),(-0.45,1.18),(-0.45,1.14),(-0.44,0.73),(-0.43,0.33),(-0.42,0.46),(-0.42,0.40),(-0.41,0.89),(-0.40,1.61),(-0.40,1.54),(-0.40,1.26),(-0.39,0.67),(-0.38,0.58),(-0.38,0.50),(-0.37,0.78),(-0.37,1.44),(-0.36,1.83),(-0.35,0.74),(-0.33,0.81),(-0.32,0.86),(-0.31,1.14),(-0.30,1.43),(-0.29,1.18),(-0.28,0.64),(-0.28,0.95),(-0.27,1.00),(-0.26,0.77),(-0.26,0.85),(-0.25,0.92),(-0.24,1.29),(-0.24,1.06),(-0.23,0.99),(-0.22,0.36),(-0.22,0.22),(-0.21,1.54),(-0.21,1.05),(-0.20,1.77),(-0.20,0.59),(-0.20,-0.05),(-0.19,0.84),(-0.18,1.11),(-0.18,1.25),(-0.17,0.88),(-0.16,0.25),(-0.15,1.44),(-0.15,1.07),(-0.14,0.80),(-0.13,0.94),(-0.12,0.79),(-0.12,1.0),(-0.11,0.70),(-0.11,1.42),(-0.10,0.41),(-0.10,0.57),(-0.09,1.10),(-0.08,1.52),(-0.07,0.61),(-0.06,1.42),(-0.06,1.34),(-0.06,1.02),(-0.04,1.23),(-0.04,1.18),(-0.03,0.79),(-0.02,0.27),(-0.01,0.92),(0.0,1.03),(0.0,0.22),(0.01,0.85),(0.02,0.68),(0.02,0.76),(0.03,1.18),(0.04,0.97),(0.04,0.89),(0.05,1.04),(0.06,1.67),(0.07,0.74),(0.07,2.05),(0.07,0.92),(0.08,1.09),(0.09,0.06),(0.09,1.17),(0.10,0.74),(0.10,0.56),(0.11,0.92),(0.11,0.54),(0.12,1.18),(0.13,1.06),(0.13,0.38),(0.14,0.75),(0.15,1.28),(0.16,1.37),(0.16,1.39),(0.17,1.09),(0.18,1.01),(0.18,1.25),(0.18,0.65),(0.19,1.19),(0.20,0.71),(0.20,1.08),(0.21,1.43),(0.21,0.86),(0.23,0.34),(0.23,1.14),
(0.58,1.63),(0.81,1.49),(0.55,1.47),(0.61,1.46),(0.31,1.46),(0.35,1.47),(0.32,1.43),(0.22,1.43),(0.98,1.41),(1.01,1.37),(0.73,1.36),(0.73,1.32),(0.63,1.30),(0.20,1.25),(0.37,1.27),(0.19,1.39),(0.29,1.22),(0.34,1.20),(0.40,1.21),(0.42,1.23),(0.47,1.20),(0.63,1.21),(0.93,1.19),(1.30,1.23),(1.55,1.15),(0.21,1.16),(0.25,1.14),(0.39,1.16),(0.45,1.11),(0.53,1.11),(0.55,1.06),(0.23,1.09),(0.21,1.01),(0.32,1.06),(0.42,1.04),(0.60,1.01),(0.73,1.09),(0.74,1.07),(0.79,1.09),(1.08,1.11),(1.06,1.02),(1.12,0.99),(1.12,0.95),(1.27,1.02),(0.28,0.95),(0.33,0.93),(0.38,0.94),(0.60,0.92),(0.74,0.94),(0.75,0.93),(1.06,0.93),(1.34,0.94),(0.22,0.86),(0.29,0.85),(0.43,0.87),(0.49,0.89),(0.82,0.85),(0.86,0.86),(0.87,0.85),(1.12,0.88),(1.16,0.89),(1.29,0.88),(0.33,0.78),(0.34,0.81),(0.53,0.79),(0.60,0.82),(0.64,0.76),(0.80,0.78),(0.86,0.77),(0.90,0.79),(1.08,0.78),(1.14,0.78),(1.24,0.75),(1.27,0.82),(1.41,0.82),(1.44,0.79),(0.28,0.73),(0.38,0.69),(0.51,0.74),(0.55,0.72),(0.65,0.73),(0.67,0.71),(0.73,0.75),(1.08,0.73),(1.24,0.74),(1.44,0.74),(0.21,0.67),(0.53,0.65),(0.64,0.64),(0.71,0.61),(0.76,0.62),(0.92,0.66),(1.05,0.61),(1.11,0.62),(1.25,0.66),(1.30,0.62),(1.32,0.67),(1.38,0.62),(1.42,0.58),(0.31,0.58),(0.49,0.53),(0.55,0.56),(0.71,0.58),(1.02,0.53),(1.16,0.53),(1.23,0.57),(0.32,0.48),(0.54,0.46),(0.97,0.48),(0.98,0.50),(0.99,0.47),(1.33,0.51),(1.60,0.47),(0.28,0.41),(0.68,0.40),(0.74,0.43),(0.80,0.43),(0.82,0.41),(0.86,0.39),(0.96,0.40),(1.03,0.39),(1.25,0.38),(1.36,0.39),(0.19,0.34),(0.35,0.35),(0.38,0.32),(0.49,0.31),(0.59,0.29),(0.62,0.32),(0.67,0.32),(0.81,0.36),(0.87,0.27),(0.93,0.32),(1.05,0.34),(1.06,0.25),(1.12,0.34),(1.14,0.36),(1.28,0.31),(0.42,0.25),(0.46,0.18),(0.55,0.20),(0.59,0.18),(0.65,0.21),(0.62,0.16),(0.70,0.15),(0.74,0.14),(0.82,0.17),(0.97,0.20),(1.10,0.16),(1.28,0.23),(1.50,0.15),(1.57,0.12),(1.70,0.18),(0.42,0.11),(0.94,0.13),(1.18,0.09),(0.88,0.03),(1.32,0.06),(1.42,0.01),(0.56,0.03),(0.65,0.02),(1.60,0.04),(1.05,-0.03),(1.07,-0.01),(1.70,-0.03),(0.64,-0.04),(0.97,-0.09),(1.34,-0.10),(0.67,-0.17),(0.95,-0.22),(1.34,-0.24),(1.27,-0.28),(0.38,-0.43),(1.05,-0.40),(1.38,-0.52)]
D1 = [(-0.80,0.71),(-0.65,0.67),(-0.57,0.48),(-0.57,0.50),(-0.95,0.13),(-0.70,-0.15),(-0.65,-0.17),(-0.63,-0.57),(-0.71,-0.78),(-0.48,-0.15),(-0.46,-0.31),(-0.45,-0.05),(-0.44,0.22),(-0.42,0.15),(-0.39,-0.04),(-0.38,0.64),(-0.38,-0.80),(-0.36,-0.13),(-0.35,-0.50),(-0.34,-0.22),(-0.33,0.42),(-0.30,0.69),(-0.25,0.59),(-0.24,0.53),(-0.23,0.41),(-0.21,0.39),(-0.23,0.0),(-0.22,-0.33),(-0.20,0.16),(-0.20,-0.17),(-0.19,-0.05),(-0.16,0.27),(-0.14,0.48),(-0.12,0.10),(-0.12,-0.48),(-0.10,0.34),(-0.10,-0.54),(-0.09,0.04),(-0.08,0.69),(-0.08,-0.37),(-0.07,-0.11),(-0.06,0.45),(-0.05,0.82),(-0.05,0.12),(-0.04,0.16),(-0.04,-0.06),(-0.04,-0.24),(-0.03,0.39),(-0.02,0.36),(-0.01,-0.32),(-0.01,-0.60),(0.0,-0.38),(0.0,-0.10),(0.0,0.28),(0.01,-0.17),(0.02,0.44),(0.03,-0.15),(0.04,-0.24),(0.05,0.18),(0.06,0.46),(0.06,0.73),(0.06,0.39),(0.09,0.21),(0.09,0.0),(0.09,-0.10),(0.10,0.15),(0.10,-0.67),(0.11,0.06),(0.11,-0.16),(0.12,-0.73),(0.13,-0.28),(0.13,0.41),(0.14,0.13),(0.15,0.50),(0.17,-0.30),(0.17,0.41),(0.18,-0.47),(0.18,0.12),(0.19,-0.39),(0.20,-0.13),(0.20,-0.60),(0.21,0.56),(0.21,-0.50),(0.22,0.21),(0.23,0.04),(0.23,-0.25),
(2.56,1.20),(1.46,1.04),(2.16,0.91),(1.72,0.83),(1.97,0.88),(2.25,0.79),(2.32,0.76),(2.54,0.76),(1.89,0.76),(1.48,0.79),(2.01,0.72),(1.97,0.68),(2.17,0.69),(1.85,0.67),(1.67,0.63),(1.70,0.64),(1.71,0.63),(1.91,0.61),(2.19,0.60),(1.58,0.60),(1.90,0.55),(1.97,0.53),(2.08,0.50),(2.14,0.53),(1.67,0.48),(1.81,0.48),(1.83,0.50),(2.23,0.46),(2.26,0.46),(2.32,0.45),(2.34,0.40),(2.16,0.36),(2.36,0.32),(1.58,0.27),(1.50,0.34),(1.53,0.38),(1.56,0.37),(1.49,0.31),(1.72,0.34),(1.81,0.34),(1.85,0.26),(1.86,0.27),(1.97,0.31),(2.01,0.23),(2.04,0.24),(2.08,0.25),(2.10,0.20),(2.16,0.23),(2.20,0.19),(2.33,0.18),(2.37,0.15),(2.59,0.14),(1.31,0.19),(1.38,0.22),(1.47,0.19),(1.53,0.16),(1.69,0.19),(1.75,0.21),(1.78,0.20),(1.82,0.16),(1.84,0.08),(1.85,0.05),(1.95,0.04),(2.10,0.01),(2.16,0.01),(2.22,0.08),(2.29,0.0),(2.37,0.07),(2.40,-0.15),(2.34,-0.20),(2.33,-0.30),(2.57,-0.34),(2.13,-0.18),(2.18,-0.21),(2.06,-0.49),(2.11,-0.58),(2.11,-0.62),(1.96,-0.45),(1.96,-0.68),(1.97,-0.84),(1.92,-0.59),(1.93,-0.31),(1.99,-0.22),(2.0,-0.24),(1.98,-0.18),(1.97,-0.16),(1.85,-0.45),(1.84,-0.40),(1.81,-0.40),(1.81,-0.17),(1.81,-0.20),(1.86,-0.14),(1.88,-0.12),(1.91,-0.05),(1.85,-0.02),(1.88,0.0),(1.81,-0.81),(1.82,-0.87),(1.75,-0.81),(1.77,-0.62),(1.77,-0.54),(1.71,-0.61),(1.70,-0.54),(1.67,-0.64),(1.63,-0.67),(1.62,-0.52),(1.59,-0.62),(1.56,-0.62),(1.59,-0.45),(1.63,-0.36),(1.66,-0.36),(1.70,-0.36),(1.73,-0.24),(1.77,-0.24),(1.72,-0.17),(1.77,-0.10),(1.74,-0.08),(1.73,-0.03),(1.70,-0.01),(1.66,-0.09),(1.63,-0.08),(1.59,-0.08),(1.59,-0.06),(1.61,-0.03),(1.57,0.05),(1.52,0.02),(1.48,0.02),(1.45,-0.08),(1.44,-0.08),(1.42,0.02),(1.49,-0.17),(1.46,-0.22),(1.49,-0.24),(1.51,-0.17),(1.54,-0.17),(1.56,-0.17),(1.52,-0.30),(1.54,-0.31),(1.59,-0.31),(1.62,-0.33),(1.44,-0.39),(1.41,-0.38),(1.38,-0.39),(1.39,-0.31),(1.35,-0.39),(1.44,-0.44),(1.44,-0.50),(1.49,-0.51),(1.51,-0.52),(1.51,-0.50),(1.41,-0.50),(1.39,-0.59),(1.38,-0.62),(1.42,-0.73),(1.39,-0.78),(1.46,-0.81),(1.57,-0.80),(1.60,-0.93),(1.65,-1.01),(1.60,-1.08),(1.71,-0.96),(1.75,-1.29),(1.36,-1.08),(1.34,-1.17),(1.30,-0.91),(1.24,-0.98),(1.24,-0.85),(1.33,-0.62),(1.34,-0.59),(1.38,-0.62),(1.30,-0.56),(1.24,-0.63),(1.27,-0.30),(1.21,-0.26),(1.16,-0.33),(1.14,-0.34),(1.18,-0.36),(1.20,-0.39),(1.22,-0.39),(1.28,-0.34),(1.30,-0.26),(1.34,-0.22),(1.30,-0.19),(1.26,-0.15),(1.26,-0.12),(1.27,-0.08),(1.23,-0.08),(1.21,-0.05),(1.26,0.03),(1.29,0.0),(1.32,-0.01),(1.38,-0.06),(1.34,-0.11),(1.14,-0.21),(1.14,-0.19),(1.10,-0.19),(1.07,-0.08),(1.07,-0.04),(1.01,-0.03),(1.0,-0.15),(1.03,-0.15),(1.08,-0.15),(1.09,-0.22),(1.12,-0.20),(1.12,-0.52),(1.11,-0.50),(1.08,-0.47),(1.03,-0.52),(1.0,-0.59),(1.0,-0.71),(1.0,-0.96),(0.97,-1.06),(0.93,-0.81),(0.93,-0.87),(0.88,-0.89),(0.89,-1.14),(0.84,-0.84),(0.85,-0.69),(0.88,-0.72),(0.87,-0.58),(0.92,-0.57),(0.94,-0.55),(0.95,-0.55),(0.97,-0.47),(0.99,-0.48),(1.08,-0.68),(1.09,-0.65),(0.81,-0.61),(0.82,-0.69),(0.79,-0.50),(0.83,-0.48),(0.84,-0.38),(0.84,-0.33),(0.88,-0.26),(0.90,-0.26),(0.89,-0.22),(0.83,-0.25),(0.83,-0.22),(0.79,-0.15),(0.85,-0.11),(0.92,-0.15),(0.93,-0.15),(0.81,-1.20),(0.81,-1.43),(0.70,-1.66),(0.75,-0.95),(0.89,-0.84),(0.76,-1.04),(0.69,-1.03),(0.68,-0.79),(0.63,-1.05),(0.62,-0.91),(0.56,-0.86),(0.74,-0.62),(0.74,-0.65),(0.71,-0.48),(0.74,-0.46),(0.71,-0.45),(0.69,-0.37),(0.73,-0.36),(0.74,-0.37),(0.71,-0.27),(0.65,-0.24),(0.73,-0.20),(0.73,-0.15),(0.70,-0.12),(0.77,-0.01),(0.76,0.27),(0.65,-0.33),(0.60,-0.20),(0.59,-0.21),(0.60,-0.47),(0.55,-0.48),(0.55,-0.50),(0.52,-0.54),(0.49,-0.54),(0.47,-0.67),(0.47,-0.76),(0.55,-0.40),(0.54,-0.30),(0.56,-0.22),(0.54,-0.19),(0.48,-0.20),(0.46,-0.22),(0.43,-0.27),(0.44,-0.26),(0.46,-0.31),(0.42,-0.50),(0.36,-0.45),(0.37,-0.44),(0.35,-0.36),(0.33,-0.38),(0.27,-0.48),(0.25,-0.50),(0.21,-0.50),(0.21,-0.60),(0.27,-0.64),(0.31,-0.62),(0.32,-0.52),(0.20,-0.39),(0.23,-0.25),(0.21,-0.17),(0.28,-0.24),(0.31,-0.22),(0.34,-0.19),(0.35,-0.27),(0.38,-0.31),(0.38,-0.15),(0.35,-0.12),(0.31,-0.12),(0.30,-0.10),(0.33,-0.08),(0.37,-0.08),(0.42,-0.11),(0.45,0.0),(0.44,0.02),(0.49,0.04),(0.51,0.02),(0.55,0.03),(0.53,0.08),(0.42,0.08),(0.24,0.05),(0.29,0.06),(0.30,0.15),(0.28,0.22),(0.19,0.19),(0.19,0.13),(0.23,0.27),(0.35,0.25),(0.40,0.25),(0.43,0.16),(0.49,0.20),(0.49,-0.02),(0.55,0.11),(0.56,0.13),(0.58,0.39),(0.60,0.40),(0.58,0.64),(0.52,0.34),(0.75,0.28),(0.81,0.41),(0.85,0.08),(0.87,-0.01),(0.91,0.12),(1.01,0.16),(1.04,0.32),(1.09,0.21),(1.11,0.36),(1.01,-0.03),(1.07,-0.06),(0.68,0.14),(0.64,0.20),(0.33,0.15),(0.22,0.58),(0.32,0.87),(0.34,0.86),(0.40,0.50),(0.37,0.55),(0.42,1.03),(0.21,0.37),(0.26,0.39),(0.28,0.37),(0.19,0.22)]

CAPTIONS = ["(a) noise = 0.05", "(b) noise = 0.10", "(c) noise = 0.25", "(d) noise = 0.35"]
X_DOMAINS = [[-1.218, 2.235], [-1.418, 2.45], [-1.818, 2.689], [-2.147, 2.817]]
Y_DOMAINS = [[-0.67, 1.192], [-0.815, 1.302], [-1.406, 1.631], [-1.855, 2.229]]
X_TICKS = [[-1.0, -0.5, 0.0, 0.5, 1.0, 1.5, 2.0], [-1.0, -0.5, 0.0, 0.5, 1.0, 1.5, 2.0],
           [-1, 0, 1, 2], [-2, -1, 0, 1, 2]]
Y_TICKS = [[-0.5, -0.25, 0.0, 0.25, 0.5, 0.75, 1.0], [-0.75, -0.5, -0.25, 0.0, 0.25, 0.5, 0.75, 1.0, 1.25],
           [-1.0, -0.5, 0.0, 0.5, 1.0, 1.5], [-1.5, -1.0, -0.5, 0.0, 0.5, 1.0, 1.5, 2.0]]
X_FMT = [".1f", ".1f", "d", "d"]
Y_FMT = [".2f", ".2f", ".1f", ".1f"]
CLASS_COLORS = ["#1f77b4", "#ff7f0e"]

W, H = 709, 492


def panel(i, c0, c1):
    rows = [{"x": x, "y": y, "cls": "0"} for x, y in c0] + [{"x": x, "y": y, "cls": "1"} for x, y in c1]
    df = pd.DataFrame(rows)
    return alt.Chart(df).mark_circle(size=46, opacity=1).encode(
        x=alt.X("x:Q", title=None,
                scale=alt.Scale(domain=X_DOMAINS[i], nice=False, zero=False),
                axis=alt.Axis(values=X_TICKS[i], format=X_FMT[i])),
        y=alt.Y("y:Q", title=None,
                scale=alt.Scale(domain=Y_DOMAINS[i], nice=False, zero=False),
                axis=alt.Axis(values=Y_TICKS[i], format=Y_FMT[i])),
        color=alt.Color("cls:N", scale=alt.Scale(domain=["0", "1"], range=CLASS_COLORS), legend=None),
    ).properties(
        width=W, height=H,
        title=alt.TitleParams(CAPTIONS[i], orient="bottom", anchor="middle", fontSize=20,
                              font="DejaVu Sans", fontWeight="normal", color="black",
                              offset=20, baseline="top"),
    )


panels = [panel(0, A0, A1), panel(1, B0, B1), panel(2, C0, C1), panel(3, D0, D1)]

chart = alt.concat(
    *panels, columns=2, spacing={"row": 99, "column": 142}, bounds="flush"
).properties(
    padding={"left": 0, "top": 0, "right": 2, "bottom": 0}
).configure_view(
    stroke="black", strokeWidth=1
).configure_axis(
    grid=False, domain=False, labelFont="DejaVu Sans", labelFontSize=10, labelColor="black",
    tickColor="black", tickSize=3.5, tickWidth=0.8, labelPadding=3.5,
)

chart.save("out.html", embed_options={"renderer": "svg", "actions": False})
